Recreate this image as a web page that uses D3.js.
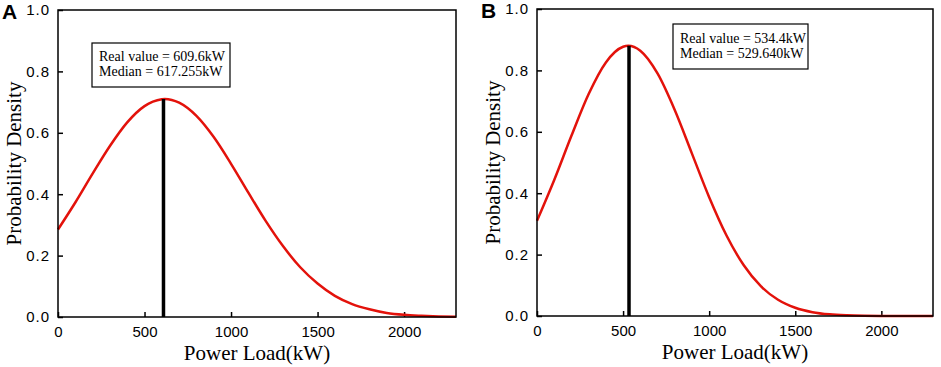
<!DOCTYPE html>
<html>
<head>
<meta charset="utf-8">
<script src="https://cdn.jsdelivr.net/npm/d3@7"></script>
<style>
  body { margin: 0; background: #fff; }
  .tick text { font-family: "Liberation Sans", Arial, sans-serif; font-size: 15px; fill: #000; }
  .y-axis .tick text { letter-spacing: 1px; }
  .axis-label { font-family: "Liberation Serif", "Times New Roman", serif; font-size: 21px; fill: #000; }
  .note { font-family: "Liberation Serif", "Times New Roman", serif; font-size: 14px; fill: #000; }
  .panel { font-family: "Liberation Sans", Arial, sans-serif; font-size: 21px; font-weight: bold; }
</style>
</head>
<body>
<svg width="941" height="367"></svg>
<script>
const svg = d3.select('svg');

// every 100 kW (plus the peak)
const loadA = [0, 100, 200, 300, 400, 500, 600, 617, 700, 800, 900, 1000, 1100, 1200, 1300, 1400, 1500, 1600, 1700, 1800, 1900, 2000, 2100, 2200, 2300];
const densA = [0.285, 0.373, 0.467, 0.557, 0.634, 0.687, 0.709, 0.71, 0.698, 0.655, 0.586, 0.499, 0.405, 0.313, 0.231, 0.162, 0.109, 0.069, 0.042, 0.025, 0.013, 0.007, 0.004, 0.002, 0.001];
const loadB = [0, 100, 200, 300, 400, 500, 530, 600, 700, 800, 900, 1000, 1100, 1200, 1300, 1400, 1500, 1600, 1700, 1800, 1900, 2000, 2100, 2200, 2300];
const densB = [0.31, 0.443, 0.587, 0.723, 0.826, 0.877, 0.88, 0.864, 0.790, 0.671, 0.529, 0.387, 0.263, 0.166, 0.097, 0.053, 0.027, 0.0125, 0.0054, 0.0022, 0.0008, 0.0003, 0.0001, 0, 0];
const realA = 609.6, medianA = 617.255;
const realB = 534.4, medianB = 529.640;
const xTicks = [0, 500, 1000, 1500, 2000];
const yTicks = [0, 0.2, 0.4, 0.6, 0.8, 1.0];

const panels = [
  { tag: 'A', left: 58, right: 456, top: 10, bottom: 317, load: loadA, dens: densA, real: realA, median: medianA, peak: 0.71,
    box: { x: 92, y: 43, w: 138, h: 44 } },
  { tag: 'B', left: 537, right: 933, top: 9, bottom: 316, load: loadB, dens: densB, real: realB, median: medianB, peak: 0.88,
    box: { x: 673, y: 24, w: 135, h: 45 } }
];

panels.forEach(p => {
  const innerWidth = p.right - p.left;
  const innerHeight = p.bottom - p.top;
  const g = svg.append('g').attr('transform', `translate(${p.left}, ${p.top})`);

  const xScale = d3.scaleLinear().domain([0, 2300]).range([0, innerWidth]);
  const yScale = d3.scaleLinear().domain([0, 1]).range([innerHeight, 0]);

  const xAxis = d3.axisBottom(xScale).tickValues(xTicks).tickSize(-5).tickPadding(9)
    .tickFormat(d3.format('d'));
  const yAxis = d3.axisLeft(yScale).tickValues(yTicks).tickSize(-5).tickPadding(8)
    .tickFormat(d3.format('.1f'));

  const xAxisG = g.append('g').attr('transform', `translate(0, ${innerHeight})`).call(xAxis);
  const yAxisG = g.append('g').attr('class', 'y-axis').call(yAxis);
  [xAxisG, yAxisG].forEach(a => {
    a.selectAll('.domain').remove();
    a.selectAll('.tick line').attr('stroke', '#000').attr('stroke-width', 1.5);
  });

  // curve
  const pts = p.load.map((d, i) => ({ x: d, y: p.dens[i] }));
  g.append('path')
    .datum(pts)
    .attr('fill', 'none')
    .attr('stroke', '#e3120b')
    .attr('stroke-width', 2.5)
    .attr('d', d3.line().x(d => xScale(d.x)).y(d => yScale(d.y)).curve(d3.curveMonotoneX));

  // real value line
  g.append('line')
    .attr('x1', xScale(p.real)).attr('x2', xScale(p.real))
    .attr('y1', yScale(0)).attr('y2', yScale(p.peak))
    .attr('stroke', '#000').attr('stroke-width', 3.5);

  // frame
  g.append('rect')
    .attr('width', innerWidth).attr('height', innerHeight)
    .attr('fill', 'none').attr('stroke', '#000').attr('stroke-width', 1.5);

  xAxisG.append('text')
    .attr('class', 'axis-label')
    .attr('x', innerWidth / 2)
    .attr('y', 43)
    .attr('text-anchor', 'middle')
    .text('Power Load(kW)');

  g.append('text')
    .attr('class', 'axis-label')
    .attr('transform', `translate(-37, ${innerHeight / 2}) rotate(-90)`)
    .attr('text-anchor', 'middle')
    .text('Probability Density');

  svg.append('text')
    .attr('class', 'panel')
    .attr('x', p.left - 56)
    .attr('y', p.top + 9)
    .text(p.tag);

  // annotation box
  const b = p.box;
  svg.append('rect')
    .attr('x', b.x).attr('y', b.y).attr('width', b.w).attr('height', b.h)
    .attr('fill', '#fff').attr('stroke', '#000').attr('stroke-width', 1.2);
  svg.append('text').attr('class', 'note')
    .attr('x', b.x + 7).attr('y', b.y + b.h / 2 - 4)
    .text(`Real value = ${p.real}kW`);
  svg.append('text').attr('class', 'note')
    .attr('x', b.x + 7).attr('y', b.y + b.h / 2 + 11)
    .text(`Median = ${p.median.toFixed(3)}kW`);
});
</script>
</body>
</html>
